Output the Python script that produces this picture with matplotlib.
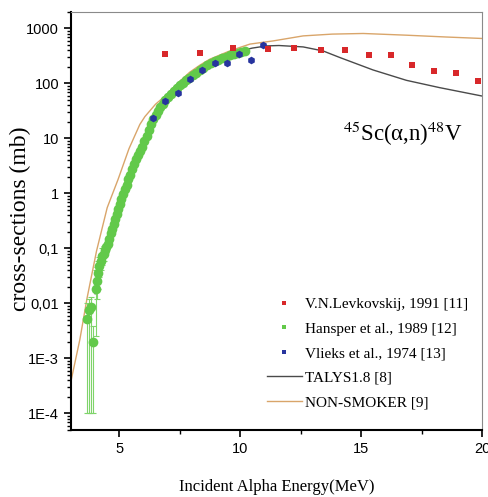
import matplotlib
matplotlib.use("Agg")
import matplotlib.pyplot as plt
from matplotlib.lines import Line2D
from matplotlib.ticker import FixedLocator, FixedFormatter, LogLocator, NullFormatter, MultipleLocator
import numpy as np

# ── data ─────────────────────────────────────────────────────────────────────
# V.N.Levkovskij, 1991
levk_e = [6.91, 8.33, 9.72, 11.13, 12.23, 13.32, 14.34, 15.33, 16.22, 17.12, 18.01, 18.92, 19.82]
levk_xs = [340, 355, 449, 420, 438, 402, 410, 327, 330, 221, 169, 158, 113]

# Hansper et al., 1989 (first points carry large error bars)
hans_e = [3.67, 3.76, 3.85, 3.92, 4.02, 4.08, 4.13, 4.18, 4.24, 4.29, 4.35,
          4.41, 4.47, 4.53, 4.59, 4.65, 4.71, 4.77, 4.83, 4.90, 4.96, 5.03,
          5.09, 5.16, 5.23, 5.30, 5.38, 5.46, 5.54, 5.62, 5.70, 5.78, 5.87,
          5.95, 6.04, 6.13, 6.22, 6.31, 6.40, 6.50, 6.60, 6.70, 6.80, 6.91,
          7.02, 7.13, 7.25, 7.37, 7.50, 7.63, 7.76, 7.90, 8.04, 8.18, 8.33,
          8.48, 8.63, 8.78, 8.94, 9.10, 9.26, 9.42, 9.58, 9.74, 9.90, 10.05, 10.20]
hans_xs = [0.0051, 0.0077, 0.0087, 0.0020, 0.018, 0.026, 0.036, 0.048, 0.058, 0.072, 0.080,
           0.092, 0.105, 0.12, 0.15, 0.19, 0.23, 0.28, 0.34, 0.42, 0.52, 0.63,
           0.78, 0.97, 1.2, 1.45, 1.8, 2.2, 2.8, 3.5, 4.3, 5.1, 6.0,
           7.0, 8.8, 11, 14.5, 18.5, 23, 27, 32, 37, 43, 50,
           57, 65, 73, 82, 92, 103, 115, 128, 142, 157, 175,
           195, 215, 235, 255, 272, 290, 308, 325, 342, 360, 375, 390]
hans_lo = [1e-4, 1e-4, 1e-4, 1e-4, 0.0025, 0.012, 0.018, 0.030, 0.040, 0.050, 0.060]
hans_hi = [0.010, 0.012, 0.013, 0.0038, 0.040, 0.045, 0.060, 0.070, 0.080, 0.100, 0.110]

# Vlieks et al., 1974
vlie_e = [6.40, 6.91, 7.41, 7.92, 8.43, 8.94, 9.45, 9.94, 10.46, 10.95]
vlie_xs = [23.5, 48, 66, 123, 174, 240, 235, 350, 270, 500]

# TALYS1.8
talys_e = [4.0, 4.5, 5.0, 5.5, 6.0, 6.5, 7.0, 7.5, 8.0, 8.5, 9.0, 9.5, 10.0,
           10.5, 11.09, 11.6, 12.6, 13.42, 14.12, 15.49, 16.87, 18.24, 20.0]
talys_xs = [0.015, 0.12, 0.65, 2.6, 8.5, 26, 55, 95, 140, 200, 265, 330, 391,
            440, 482, 490, 462, 391, 296, 176, 114, 84, 59]

# NON-SMOKER
nons_e = [3.0, 3.37, 3.67, 4.06, 4.5, 4.95, 5.4, 5.85, 6.06, 6.5, 6.95, 7.4,
          7.91, 8.33, 8.74, 9.5, 9.98, 10.4, 11.36, 12.6, 13.8, 15.08, 16.87, 18.5, 20.0]
nons_xs = [0.00038, 0.0022, 0.0126, 0.09, 0.55, 1.8, 6.5, 18, 25, 42, 62, 100,
           160, 215, 276, 380, 451, 520, 594, 733, 790, 811, 755, 700, 658]

YTICKS = [1e-4, 1e-3, 1e-2, 1e-1, 1, 10, 100, 1000]
YLABELS = ["1E-4", "1E-3", "0,01", "0,1", "1", "10", "100", "1000"]
XTICKS = [5, 10, 15, 20]

RED = "#d8282a"
GREEN = "#62c94a"
BLUE = "#27349e"
GREY = "#4a4a4a"
TAN = "#d9a56a"

plt.rcParams["mathtext.fontset"] = "stix"

fig = plt.figure(figsize=(4.89, 4.97), dpi=100)
ax = fig.add_axes([0.145, 0.135, 0.841, 0.841])

ax.plot(nons_e, nons_xs, color=TAN, lw=1.0, zorder=2)
ax.plot(talys_e, talys_xs, color=GREY, lw=1.0, zorder=2)

# error bars on the lowest Hansper points
n_err = len(hans_lo)
ey = np.array(hans_xs[:n_err])
yerr = [ey - np.array(hans_lo), np.array(hans_hi) - ey]
ax.errorbar(hans_e[:n_err], ey, yerr=yerr, fmt="none", ecolor="#7fd46a",
            elinewidth=0.8, capsize=2.5, capthick=0.8, zorder=3)
ax.plot(hans_e, hans_xs, "o", color=GREEN, ms=7, mew=0, zorder=4)
ax.plot(vlie_e, vlie_xs, "h", color=BLUE, ms=5.5, mew=0, zorder=5)
ax.plot(levk_e, levk_xs, "s", color=RED, ms=4.2, mew=0, zorder=5)

ax.set_yscale("log")
ax.set_xlim(3, 20)
ax.set_ylim(5e-5, 2000)

ax.yaxis.set_major_locator(FixedLocator(YTICKS))
ax.yaxis.set_major_formatter(FixedFormatter(YLABELS))
ax.yaxis.set_minor_locator(LogLocator(base=10, subs=np.arange(2, 10), numticks=20))
ax.yaxis.set_minor_formatter(NullFormatter())
ax.xaxis.set_major_locator(FixedLocator(XTICKS))
ax.xaxis.set_minor_locator(MultipleLocator(2.5))

ax.tick_params(axis="both", which="major", direction="out", length=5, width=1.2,
               labelsize=10.5, top=False, right=False)
ax.tick_params(axis="both", which="minor", direction="out", length=3, width=1.0,
               top=False, right=False)
for lab in ax.get_xticklabels() + ax.get_yticklabels():
    lab.set_family("Liberation Sans")

for side in ("left", "bottom"):
    ax.spines[side].set_linewidth(1.5)
    ax.spines[side].set_color("black")
for side in ("top", "right"):
    ax.spines[side].set_linewidth(0.8)
    ax.spines[side].set_color("#8a8a8a")

ax.set_xlabel("Incident Alpha Energy(MeV)", family="Liberation Serif", fontsize=12, labelpad=17)
ax.set_ylabel("cross-sections (mb)", family="Liberation Serif", fontsize=17)
ax.yaxis.set_label_coords(-0.098, 0.505)

ax.text(0.955, 0.71, r"$^{45}$Sc(α,n)$^{48}$V", transform=ax.transAxes,
        ha="right", va="center", fontsize=16.5, family="Liberation Serif")

handles = [
    Line2D([], [], ls="none", marker="s", ms=3, color=RED, mew=0),
    Line2D([], [], ls="none", marker="s", ms=3, color=GREEN, mew=0),
    Line2D([], [], ls="none", marker="s", ms=3, color=BLUE, mew=0),
    Line2D([], [], color=GREY, lw=1.0),
    Line2D([], [], color=TAN, lw=1.0),
]
labels = ["V.N.Levkovskij, 1991 [11]", "Hansper et al., 1989 [12]",
          "Vlieks et al., 1974 [13]", "TALYS1.8 [8]", "NON-SMOKER [9]"]
ax.legend(handles, labels, loc="upper left", bbox_to_anchor=(0.458, 0.335),
          frameon=False, prop={"family": "Liberation Serif", "size": 11},
          handlelength=2.3, handletextpad=0.2, labelspacing=0.71, borderpad=0)

fig.savefig("out.png", dpi=100)
